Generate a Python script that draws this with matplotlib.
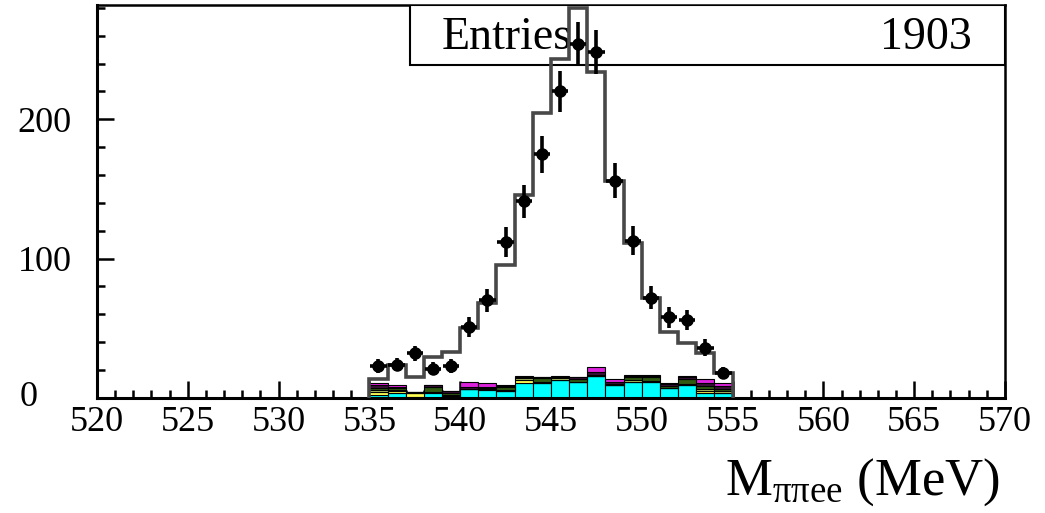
import numpy as np
import matplotlib
matplotlib.use("Agg")
import matplotlib.pyplot as plt
from matplotlib.patches import Rectangle

plt.rcParams['font.family'] = ['Liberation Serif', 'DejaVu Serif']
plt.rcParams['mathtext.fontset'] = 'custom'
plt.rcParams['mathtext.rm'] = 'Liberation Serif'
plt.rcParams['mathtext.it'] = 'Liberation Serif:italic'

# 1 MeV bins from 535 to 555
bin_lo = 535
bin_hi = 555
bin_edges = np.arange(bin_lo, bin_hi + 1)

# measured counts per bin
data_counts = [23, 24, 32, 21, 23, 51, 70, 112, 141, 175,
               220, 254, 248, 156, 113, 72, 58, 56, 36, 18]

# simulated signal + background (normalised)
mc_counts = [13.6, 23.7, 14.8, 29.2, 33.2, 50.0, 68.0, 95.3, 145.5, 204.5,
             243.5, 280.0, 234.0, 155.8, 111.3, 71.5, 47.5, 39.2, 32.0, 18.2]

# background components, stacked from the bottom up
bkg_cyan = [2.5, 3.5, 1.0, 3.5, 1.0, 6.2, 5.7, 4.8, 10.5, 11.0,
            12.9, 11.7, 15.8, 9.3, 11.7, 11.7, 6.9, 9.3, 3.3, 3.3]
bkg_yellow = [2.0, 1.5, 2.5, 1.0, 0.5, 0.0, 1.0, 0.0, 2.5, 0.0,
              0.0, 0.0, 0.0, 0.0, 0.0, 0.0, 0.0, 0.0, 1.5, 0.0]
bkg_olive = [1.0, 0.5, 0.0, 0.0, 1.0, 0.0, 0.0, 1.0, 1.0, 0.5,
             1.5, 0.0, 0.0, 0.0, 1.5, 0.5, 0.0, 1.0, 1.5, 1.5]
bkg_dkgreen = [2.0, 1.5, 0.5, 3.5, 1.0, 0.0, 0.5, 2.0, 0.5, 2.5,
               0.5, 2.0, 1.0, 0.5, 1.5, 2.5, 2.0, 3.5, 2.5, 2.0]
bkg_purple = [2.0, 1.0, 0.5, 1.0, 1.5, 2.0, 1.0, 1.0, 0.5, 1.0,
              0.5, 1.0, 2.0, 1.5, 1.0, 1.0, 1.0, 1.5, 2.0, 2.0]
bkg_magenta = [1.5, 1.0, 0.0, 0.5, 0.0, 3.5, 2.5, 0.5, 0.5, 0.0,
               0.5, 0.5, 3.5, 2.0, 0.5, 0.5, 0.5, 0.5, 2.5, 2.0]

n_entries = 1903

fig = plt.figure(figsize=(10.45, 5.13), dpi=100)
ax = fig.add_axes([0.0928, 0.2242, 0.8689, 0.7661])

# stacked backgrounds
components = [
    (bkg_cyan, '#00ffff'),
    (bkg_yellow, '#ffff55'),
    (bkg_olive, '#b8cc66'),
    (bkg_dkgreen, '#2f5a10'),
    (bkg_purple, '#3a1038'),
    (bkg_magenta, '#dd22dd'),
]
bottom = np.zeros(len(data_counts))
for vals, col in components:
    vals = np.array(vals)
    ax.bar(bin_edges[:-1], vals, width=1.0, bottom=bottom, align='edge',
           color=col, edgecolor='black', linewidth=0.8, zorder=2)
    bottom += vals

# stats box
box = Rectangle((0.345, 0.847), 0.655, 0.153, transform=ax.transAxes,
                facecolor='white', edgecolor='black', linewidth=1.5, zorder=3)
ax.add_patch(box)
ax.text(0.38, 0.917, "Entries", transform=ax.transAxes, fontsize=33,
        ha='left', va='center', zorder=3)
ax.text(0.963, 0.917, str(n_entries), transform=ax.transAxes, fontsize=33,
        ha='right', va='center', zorder=3)

# MC histogram outline
ax.stairs(mc_counts, bin_edges, color='#484848', linewidth=2.6, zorder=4)

# data points with sqrt(N) errors
centers = (bin_edges[:-1] + bin_edges[1:]) / 2
errs = np.sqrt(data_counts)
ax.errorbar(centers, data_counts, yerr=errs, xerr=0.45, fmt='o', color='black',
            markersize=8, elinewidth=2.6, capsize=0, zorder=5)

ax.set_xlim(520, 570)
ax.set_ylim(0, 282)

ax.set_xticks(np.arange(520, 571, 5))
ax.set_xticks(np.arange(520, 571, 1), minor=True)
ax.set_yticks([0, 100, 200])
ax.set_yticks(np.arange(0, 281, 20), minor=True)
ax.set_yticklabels(['', '100', '200'])
ax.tick_params(axis='both', which='both', direction='in', top=False, right=False,
               labelsize=26, width=1.8)
ax.tick_params(axis='both', which='major', length=12)
ax.tick_params(axis='both', which='minor', length=6)
ax.tick_params(axis='x', pad=6)
ax.tick_params(axis='y', pad=18)

# zero label sits lower-left of the corner
ax.text(-0.065, 0.0, '0', transform=ax.transAxes, fontsize=26,
        ha='right', va='center')

for sp in ax.spines.values():
    sp.set_linewidth(1.8)
    sp.set_color('black')
ax.spines['left'].set_linewidth(2.2)
ax.spines['bottom'].set_linewidth(2.2)

fig.text(0.957, 0.035, r'M$_{\mathrm{\pi\pi ee}}$ (MeV)', fontsize=38,
         ha='right', va='baseline')

fig.savefig('out.png', dpi=100)
